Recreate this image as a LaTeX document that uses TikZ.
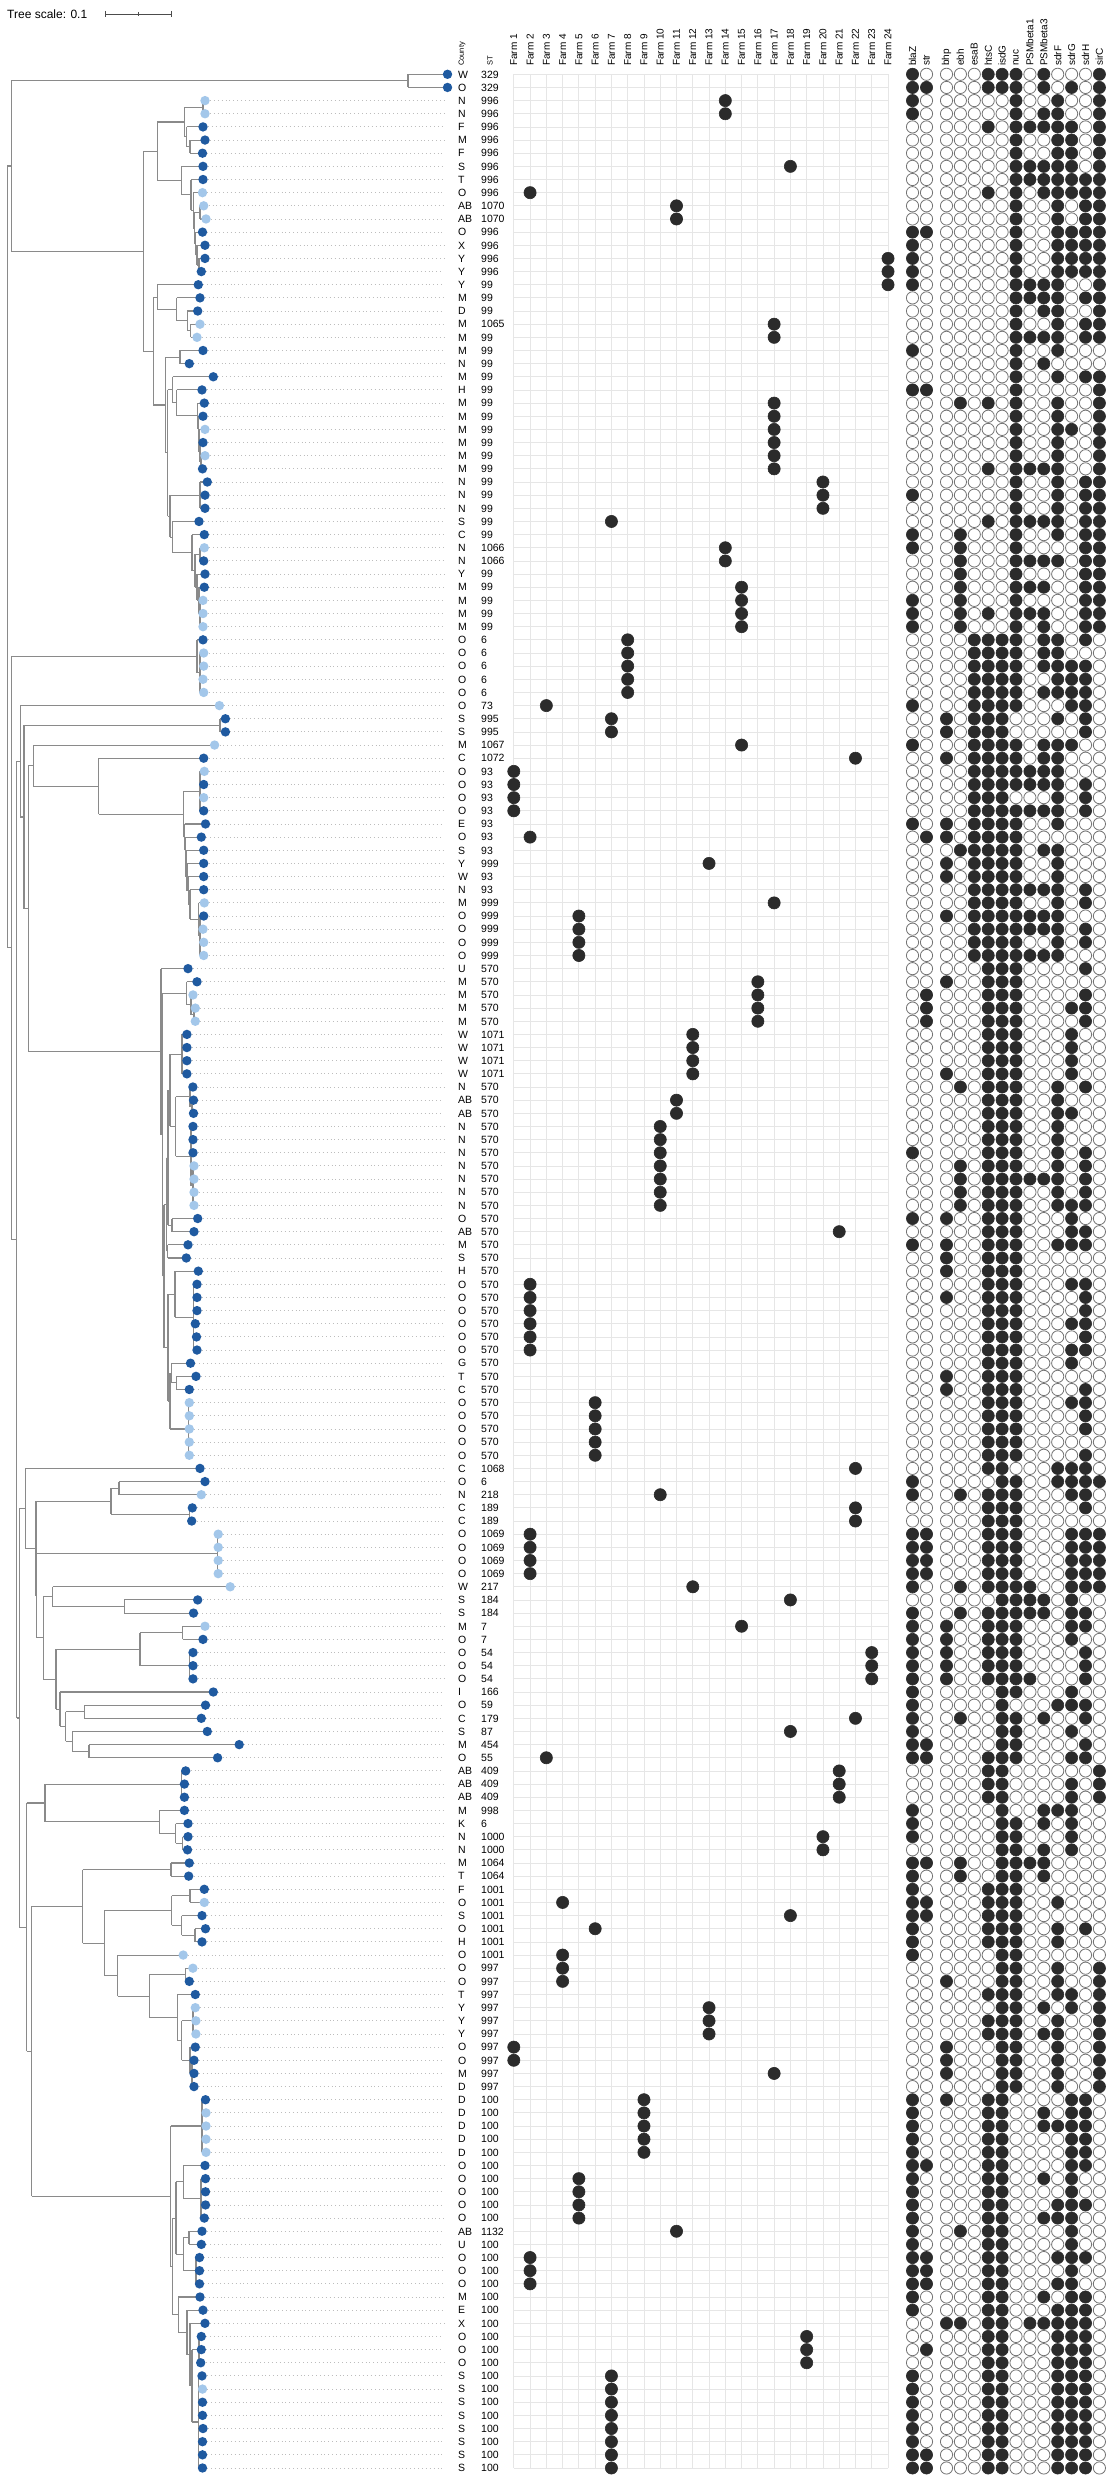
\documentclass[tikz,border=0pt]{standalone}
\usepackage{fontspec}
\setmainfont{Liberation Sans}
\usetikzlibrary{calc}
\definecolor{dk}{HTML}{1F5AA0}
\definecolor{lt}{HTML}{A3C7EA}
\definecolor{ink}{HTML}{2B2B2B}
\definecolor{gridc}{HTML}{E6E6E6}
\definecolor{treec}{HTML}{8A8A8A}
\definecolor{leadc}{HTML}{BDBDBD}
\newcount\gk
\def\gxpos#1{\ifcase#1\or912.5\or926.5\or946.5\or960.4\or974.3\or988.2\or1002.1\or1016\or1029.9\or1043.8\or1057.7\or1071.6\or1085.5\or1099.4\fi}
\newcommand\genes[2]{\global\gk=0 \gdef\onlist{}\gdef\offlist{}\def\gyy{#1}\expandafter\gparse#2\relax
  \ifx\onlist\empty\else\edef\tmpcmd{\noexpand\path[gonp] \onlist;}\tmpcmd\fi
  \ifx\offlist\empty\else\edef\tmpcmd{\noexpand\path[goffp] \offlist;}\tmpcmd\fi}
\def\gparse#1{\ifx\relax#1\else\global\advance\gk by 1 \edef\gxx{\gxpos{\the\gk}}%
  \ifnum#1=1 \xdef\onlist{\onlist (\gxx,\gyy) circle[radius=6.1]}\else\xdef\offlist{\offlist (\gxx,\gyy) circle[radius=6.1]}\fi
  \expandafter\gparse\fi}
\newcommand\trV[3]{\draw[tree] (#1,{ry(#2)}) -- (#1,{ry(#3)});}
\newcommand\trH[3]{\draw[tree] (#1,{ry(#3)}) -- (#2,{ry(#3)});}
% \ND{parent x}{x}{first child pos}{last child pos}
\newcommand\ND[4]{\trV{#2}{#3}{#4}\trH{#1}{#2}{(#3+#4)/2}}
% \TP{parent x}{row from}{row to}
\newcommand\TP[3]{\foreach \q in {#2,...,#3}{\expandafter\xdef\csname px\q\endcsname{#1}}}
\begin{document}
\begin{tikzpicture}[x=1pt,y=-1pt,
  declare function={ry(\r)=74.3+(\r-1)*13.152;},
  gonp/.style={draw=ink,fill=ink,line width=0.6pt},
  goffp/.style={draw=black!55,fill=white,line width=0.8pt},
  tipdot/.style={circle,minimum size=9.4pt,inner sep=0pt},
  tree/.style={draw=treec,line width=1.1pt},
  leader/.style={draw=leadc,line width=0.9pt,dash pattern=on 1pt off 2.9pt},
  gridl/.style={draw=gridc,line width=0.8pt},
  lab/.style={anchor=west,inner sep=0pt,text height=7.5pt,text depth=0pt,font=\fontsize{10.5}{12}\selectfont},
  hdr/.style={rotate=90,anchor=west,inner sep=0pt,font=\fontsize{10}{12}\selectfont},
  hdrs/.style={rotate=90,anchor=west,inner sep=0pt,font=\fontsize{7.5}{9}\selectfont}]
\useasboundingbox (0,0) rectangle (1109,2480);
\fill[white] (0,0) rectangle (1109,2480);
% tree scale
\node[anchor=west,inner sep=0pt,font=\fontsize{12}{14}\selectfont] (tscale) at (7,14) {Tree scale: 0.1};
\coordinate (sb1) at (105,14); \coordinate (sb2) at (171,14); \coordinate (sbm) at (138,14);
\draw[black!70,line width=0.8pt] (sb1) -- (sb2);
\draw[black!70,line width=0.8pt] ($(sb1)+(0,-3)$) -- ($(sb1)+(0,3)$);
\draw[black!70,line width=0.8pt] ($(sb2)+(0,-3)$) -- ($(sb2)+(0,3)$);
\draw[black!70,line width=0.8pt] ($(sbm)+(0,-2)$) -- ($(sbm)+(0,2)$);
% headers
\node[hdrs] (hcounty) at (462,66) {County};
\node[hdrs] (hst) at (490,66) {ST};
\foreach \k in {1,...,24} {\node[hdr] (hf\k) at ({513.8+(\k-1)*16.27},66) {Farm \k};}
\foreach \g [count=\k] in {blaZ,str,bhp,ebh,esaB,htsC,isdG,nuc,PSMbeta1,PSMbeta3,sdrF,sdrG,sdrH,sirC}
  {\edef\gxx{\gxpos{\k}}\node[hdr] (hg\k) at (\gxx,66) {\g};}
% grid
\foreach \k in {1,...,24} {\draw[gridl] ({513.8+(\k-1)*16.27},{ry(1)}) -- ({513.8+(\k-1)*16.27},{ry(183)});}
\foreach \r in {1,...,183} {\draw[gridl] (513.8,{ry(\r)}) -- (888,{ry(\r)});}
% ---------------- tree ----------------
\ND{11.3}{408}{1}{2} \TP{408}{1}{2}
\ND{184.3}{203}{3}{4} \TP{203}{3}{4}
\ND{186.7}{190}{6}{7} \TP{190}{6}{7}
\ND{184.3}{186.7}{5}{6.5} \TP{186.7}{5}{5}
\ND{157.3}{184.3}{3.5}{5.75}
\ND{194.5}{200}{11}{12} \TP{200}{11}{12}
\ND{197}{199}{15}{16} \TP{199}{15}{16}
\ND{195.5}{197}{14}{15.5} \TP{197}{14}{14}
\ND{194.5}{195.5}{13}{14.75} \TP{195.5}{13}{13}
\ND{193.3}{194.5}{11.5}{13.875}
\ND{191}{193.3}{10}{12.6875} \TP{193.3}{10}{10}
\ND{181.7}{191}{9}{11.34} \TP{191}{9}{9}
\ND{157.3}{181.7}{8}{10.17} \TP{181.7}{8}{8}
\ND{143.3}{157.3}{4.625}{9.085}
\ND{187.3}{190.7}{20}{21} \TP{190.7}{20}{21}
\ND{176.7}{187.3}{19}{20.5} \TP{187.3}{19}{19}
\ND{157.3}{176.7}{18}{19.75} \TP{176.7}{18}{18}
\ND{153.3}{157.3}{17}{18.875} \TP{157.3}{17}{17}
\ND{165.7}{180}{22}{23} \TP{180}{22}{23}
\ND{200}{201}{30}{31} \TP{201}{30}{31}
\ND{199}{200}{29}{30.5} \TP{200}{29}{29}
\ND{198.3}{199}{28}{29.75} \TP{199}{28}{28}
\ND{197.5}{198.3}{27}{28.875} \TP{198.3}{27}{27}
\ND{176.7}{197.5}{26}{27.94} \TP{197.5}{26}{26}
\ND{172.7}{176.7}{25}{26.97} \TP{176.7}{25}{25}
\ND{167.7}{172.7}{24}{25.98} \TP{172.7}{24}{24}
\ND{170}{200}{32}{34} \TP{200}{32}{34}
\ND{195}{200}{37}{38} \TP{200}{37}{38}
\ND{199}{200}{41}{43} \TP{200}{41}{43}
\ND{197}{199}{40}{42} \TP{199}{40}{40}
\ND{195}{197}{39}{41} \TP{197}{39}{39}
\ND{192}{195}{37.5}{40}
\ND{172.3}{192}{36}{38.75} \TP{192}{36}{36}
\ND{170}{172.3}{35}{37.375} \TP{172.3}{35}{35}
\ND{167.7}{170}{33}{36.19}
\ND{165.7}{167.7}{24.99}{34.59}
\ND{153.3}{165.7}{22.5}{29.79}
\ND{143.3}{153.3}{17.94}{26.15}
\ND{11.3}{143.3}{6.86}{22.04}
\ND{7.3}{11.3}{1.5}{14.45}
% ST6
\ND{197}{200}{45}{48} \TP{200}{45}{48}
\ND{11.3}{197}{44}{46.5} \TP{197}{44}{44}
% ST995
\ND{24}{220}{50}{51} \TP{220}{50}{51}
% ST93/999
\ND{183.7}{200}{54}{57} \TP{200}{54}{57}
\ND{198.5}{200}{65}{68} \TP{200}{65}{68}
\ND{190}{198.5}{64}{66.5} \TP{198.5}{64}{64}
\ND{188.3}{190}{63}{65.25} \TP{190}{63}{63}
\ND{187}{188.3}{62}{64.125} \TP{188.3}{62}{62}
\ND{186}{187}{61}{63.06} \TP{187}{61}{61}
\ND{185.3}{186}{60}{62.03} \TP{186}{60}{60}
\ND{184.7}{185.3}{59}{61.02} \TP{185.3}{59}{59}
\ND{183.7}{184.7}{58}{60.01} \TP{184.7}{58}{58}
\ND{98.7}{183.7}{55.5}{59.0}
\ND{33.3}{98.7}{53}{57.25} \TP{98.7}{53}{53}
\ND{28.3}{33.3}{52}{55.125} \TP{33.3}{52}{52}
% ST570
\ND{191}{194}{72}{73} \TP{194}{72}{73}
\ND{186.7}{191}{71}{72.5} \TP{191}{71}{71}
\ND{162.7}{186.7}{70}{71.75} \TP{186.7}{70}{70}
\ND{170}{182}{74}{77} \TP{182}{74}{77}
\ND{190}{192}{79}{80} \TP{192}{79}{80}
\ND{175.7}{190}{78}{79.5} \TP{190}{78}{78}
\ND{191}{193}{84}{87} \TP{193}{84}{87}
\ND{175.7}{191}{81}{85.5} \TP{191}{81}{83}
\ND{170}{175.7}{78.75}{83.25}
\ND{168}{170}{75.5}{81}
\ND{168}{172}{88}{89} \TP{172}{88}{89}
\ND{166.5}{168}{78.25}{88.5}
\ND{166.5}{167.5}{90}{91} \TP{167.5}{90}{91}
\ND{164}{166.5}{83.375}{90.5}
\ND{175}{193.3}{93}{98} \TP{193.3}{93}{98}
\ND{168}{175}{92}{95.5} \TP{175}{92}{92}
\ND{171.7}{176.7}{100}{101} \TP{176.7}{100}{101}
\ND{170}{171.7}{99}{100.5} \TP{171.7}{99}{99}
\ND{170}{188.3}{102}{106} \TP{188.3}{102}{106}
\ND{168}{170}{99.75}{104}
\ND{164}{168}{93.75}{101.875}
\ND{162.7}{164}{86.94}{97.81}
\ND{161}{162.7}{70.875}{92.375}
\ND{28.3}{161}{69}{81.625} \TP{161}{69}{69}
\ND{24}{28.3}{53.56}{75.31}
\ND{20.3}{24}{50.5}{64.44}
\ND{16.7}{20.3}{49}{57.47} \TP{20.3}{49}{49}
% lower part: rows 107-129
\ND{19.3}{25.3}{107}{113.1} \TP{25.3}{107}{107}
\ND{25.3}{36}{109.5}{116.7}
\ND{36}{111}{108.5}{110.5}
\ND{111}{119}{108}{109} \TP{119}{108}{109}
\ND{111}{189.3}{110}{111} \TP{189.3}{110}{111}
\ND{36}{36.7}{113.5}{119.9}
\ND{36.7}{217.3}{112}{115} \TP{217.3}{112}{115}
\ND{36.7}{43.3}{116.75}{123.0}
\ND{43.3}{52.7}{116}{117.5} \TP{52.7}{116}{116}
\ND{52.7}{124.3}{117}{118} \TP{124.3}{117}{118}
\ND{43.3}{56}{120.75}{125.3}
\ND{56}{140}{119.5}{122}
\ND{140}{182.7}{119}{120} \TP{182.7}{119}{120}
\ND{140}{189.3}{121}{123} \TP{189.3}{121}{123}
\ND{56}{60}{124}{126.6} \TP{60}{124}{124}
\ND{60}{65.7}{125.5}{127.75}
\ND{65.7}{84.3}{125}{126} \TP{84.3}{125}{126}
\ND{65.7}{72.3}{127}{128.5} \TP{72.3}{127}{127}
\ND{72.3}{89}{128}{129} \TP{89}{128}{129}
% rows 130-183
\ND{45}{181.7}{130}{132} \TP{181.7}{130}{132}
\ND{175.7}{182.7}{135}{136} \TP{182.7}{135}{136}
\ND{159.3}{175.7}{134}{135.5} \TP{175.7}{134}{134}
\ND{45}{159.3}{133}{134.75} \TP{159.3}{133}{133}
\ND{26.7}{45}{131}{133.875}
\ND{82.7}{171}{137}{138} \TP{171}{137}{138}
\ND{171.7}{190}{139}{140} \TP{190}{139}{140}
\ND{181.7}{195}{142}{143} \TP{195}{142}{143}
\ND{171.7}{181.7}{141}{142.5} \TP{181.7}{141}{141}
\ND{104.3}{171.7}{139.5}{141.75}
\ND{149.3}{185.7}{145}{146} \TP{185.7}{145}{146}
\ND{181.7}{193}{148}{150} \TP{193}{148}{150}
\ND{190}{192}{152}{154} \TP{192}{152}{154}
\ND{181.7}{190}{151}{153} \TP{190}{151}{151}
\ND{177.3}{181.7}{149}{152}
\ND{149.3}{177.3}{147}{150.5} \TP{177.3}{147}{147}
\ND{117.7}{149.3}{145.5}{148.75}
\ND{104.3}{117.7}{144}{147.125} \TP{117.7}{144}{144}
\ND{82.7}{104.3}{140.625}{145.56}
\ND{31.7}{82.7}{137.5}{143.1}
\ND{170.7}{202}{155}{159} \TP{202}{155}{159}
\ND{183.3}{201}{161}{164} \TP{201}{161}{164}
\ND{176}{183.3}{160}{162.5} \TP{183.3}{160}{160}
\ND{183.3}{189}{165}{166} \TP{189}{165}{166}
\ND{183.3}{196}{167}{169} \TP{196}{167}{169}
\ND{176}{183.3}{165.5}{168}
\ND{172.3}{176}{161.25}{166.75}
\ND{192}{199}{173}{175} \TP{199}{173}{175}
\ND{192}{198.7}{176}{183} \TP{198.7}{176}{183}
\ND{190}{192}{174}{179.5}
\ND{187}{190}{172}{176.75} \TP{190}{172}{172}
\ND{178.3}{187}{171}{174.375} \TP{187}{171}{171}
\ND{172.3}{178.3}{170}{172.69} \TP{178.3}{170}{170}
\ND{170.7}{172.3}{164}{171.35}
\ND{31.7}{170.7}{157}{167.68}
\ND{26.7}{31.7}{140.3}{162.3}
\ND{19.3}{26.7}{132.45}{151.3}
\ND{16.7}{19.3}{110.05}{141.9}
\ND{11.3}{16.7}{53.24}{126.0}
\ND{7.3}{11.3}{45.25}{89.6}
\trV{7.3}{7.975}{67.4}
% ---------------- rows ----------------
\foreach \r/\cc/\st/\fm/\gs/\tx/\tc in {
1/W/329/0/10000111010001/447.5/dk,
2/O/329/0/11000111010101/447.5/dk,
3/N/996/14/10000001001001/205/lt,
4/N/996/14/10000001011001/205/lt,
5/F/996/0/00000101111101/203/dk,
6/M/996/0/00000001001101/205/dk,
7/F/996/0/00000001001101/202.5/dk,
8/S/996/18/00000001111101/203/dk,
9/T/996/0/00000001111111/203/dk,
10/O/996/2/00000101011111/202.5/lt,
11/AB/1070/11/00000001001011/203.7/lt,
12/AB/1070/11/00000001001011/206/lt,
13/O/996/0/11000001001111/202.5/dk,
14/X/996/0/10000001001111/205/dk,
15/Y/996/24/10000001001111/205/dk,
16/Y/996/24/10000001001111/201.3/dk,
17/Y/99/24/10000001111001/198.3/dk,
18/M/99/0/00000001111011/200/dk,
19/D/99/0/00000001011001/197.7/dk,
20/M/1065/17/00000001001011/200/lt,
21/M/99/17/00000001111011/197/lt,
22/M/99/0/10000001001000/203/dk,
23/N/99/0/00000001010000/189.3/dk,
24/M/99/0/00000001001011/213.3/dk,
25/H/99/0/11000001000001/202/dk,
26/M/99/17/00010101001001/204.3/dk,
27/M/99/17/00000001001001/203/dk,
28/M/99/17/00000001001101/205/lt,
29/M/99/17/00000001001001/203/dk,
30/M/99/17/00000001001001/205/lt,
31/M/99/17/00000101111001/202.5/dk,
32/N/99/20/00000001001011/207.3/dk,
33/N/99/20/10000001001011/205/dk,
34/N/99/20/00000001001011/205/dk,
35/S/99/7/00000101111011/199/dk,
36/C/99/0/10010001001011/204.3/dk,
37/N/1066/14/10010001000011/204.3/lt,
38/N/1066/14/00010001111011/203.7/dk,
39/Y/99/0/00010001000011/205/dk,
40/M/99/15/00010001110011/204.3/dk,
41/M/99/15/10010001000011/203/lt,
42/M/99/15/10010101110011/203/lt,
43/M/99/15/10010001010011/203/lt,
44/O/6/8/00001111011010/203/dk,
45/O/6/8/00001111011000/203.7/lt,
46/O/6/8/00001111011110/203.7/lt,
47/O/6/8/00001111001110/203/lt,
48/O/6/8/00001111011110/203.7/lt,
49/O/73/3/10001111000110/219.4/lt,
50/S/995/7/00101110001010/225.4/dk,
51/S/995/7/00101110000010/225.4/dk,
52/M/1067/15/10001111011100/214.6/lt,
53/C/1072/22/00101111011000/203.7/dk,
54/O/93/1/00001111111000/204.3/lt,
55/O/93/1/00001111111010/203.7/dk,
56/O/93/1/00001110001010/203.7/lt,
57/O/93/1/00001111111010/203.7/dk,
58/E/93/0/10101111001000/205.5/dk,
59/O/93/2/01101111000000/201.3/dk,
60/S/93/0/00011111011000/203.7/dk,
61/Y/999/13/00101111001000/203.7/dk,
62/W/93/0/00101111001000/203.7/dk,
63/N/93/0/00001111111010/203.7/dk,
64/M/999/17/00001111001010/204.3/lt,
65/O/999/5/00101111111000/203.7/dk,
66/O/999/5/00001111111010/203/lt,
67/O/999/5/00001111001010/203.7/lt,
68/O/999/5/00001111111000/203.7/lt,
69/U/570/0/00000111000010/188/dk,
70/M/570/16/00100111000000/197/dk,
71/M/570/16/01000111000010/193/lt,
72/M/570/16/01000111000110/195.3/lt,
73/M/570/16/01000111000010/195.3/lt,
74/W/1071/12/00000111000100/186.9/dk,
75/W/1071/12/00000111000100/186.9/dk,
76/W/1071/12/00000111000100/186.9/dk,
77/W/1071/12/00100111000100/186.9/dk,
78/N/570/0/00010111001010/192.9/dk,
79/AB/570/11/00000111001000/193.5/dk,
80/AB/570/11/00000111001100/193.5/dk,
81/N/570/10/00000111001000/193/dk,
82/N/570/10/00000111001000/193/dk,
83/N/570/10/10000111001010/193/dk,
84/N/570/10/00010111001010/194/lt,
85/N/570/10/00010111111010/194/lt,
86/N/570/10/00010111001010/194/lt,
87/N/570/10/00010111001110/194/lt,
88/O/570/0/10100111000100/197.7/dk,
89/AB/570/21/00000111000110/194/dk,
90/M/570/0/10100111001110/188/dk,
91/S/570/0/00100111000000/186.3/dk,
92/H/570/0/00100111000000/198.3/dk,
93/O/570/2/00000111000110/197/dk,
94/O/570/2/00100111000010/197/dk,
95/O/570/2/00000111000010/197/dk,
96/O/570/2/00000111000110/195.3/dk,
97/O/570/2/00000111000010/196.5/dk,
98/O/570/2/00000111000110/197/dk,
99/G/570/0/00000111000100/190.5/dk,
100/T/570/0/00100111000000/196/dk,
101/C/570/0/00100111000010/189.3/dk,
102/O/570/6/00000111000110/189.3/lt,
103/O/570/6/00000111000010/189.3/lt,
104/O/570/6/00000111000010/189.3/lt,
105/O/570/6/00000111000000/189.3/lt,
106/O/570/6/00000111000010/189.3/lt,
107/C/1068/22/00000110001110/200/dk,
108/O/6/0/10000011001111/205/dk,
109/N/218/10/10010111000110/201.3/lt,
110/C/189/22/00000111000010/192.3/dk,
111/C/189/22/00000111000000/191.7/dk,
112/O/1069/2/11000111000111/218.2/lt,
113/O/1069/2/11000111000111/218.2/lt,
114/O/1069/2/11000111000111/218.2/lt,
115/O/1069/2/11000111000111/218.2/lt,
116/W/217/12/10010111100111/230.2/lt,
117/S/184/18/00000011110100/197.7/dk,
118/S/184/0/10010111110110/193.5/dk,
119/M/7/15/10100111000110/205/lt,
120/O/7/0/10100111000100/203/dk,
121/O/54/23/10100111000010/193/dk,
122/O/54/23/10100111000010/193/dk,
123/O/54/23/10100111100010/193/dk,
124/I/166/0/10000011000100/213.3/dk,
125/O/59/0/10000010001110/205.5/dk,
126/C/179/22/10010011010010/201.3/dk,
127/S/87/18/10000011000100/207.3/dk,
128/M/454/0/11000011000010/239.2/dk,
129/O/55/3/11000111000110/217.6/dk,
130/AB/409/21/00000110000001/185.7/dk,
131/AB/409/21/00000110000101/184.4/dk,
132/AB/409/21/00000110000101/184.4/dk,
133/M/998/0/10000010011100/184.4/dk,
134/K/6/0/10000011010100/188/dk,
135/N/1000/20/10000011000100/188/dk,
136/N/1000/20/00000011010100/187.5/dk,
137/M/1064/0/11010011110000/189.3/dk,
138/T/1064/0/10010011010000/188.7/dk,
139/F/1001/0/10000111000000/204.3/dk,
140/O/1001/4/11000111001000/204.3/lt,
141/S/1001/18/11000111000000/202/dk,
142/O/1001/6/10000111001010/205.5/dk,
143/H/1001/0/10000111001000/202/dk,
144/O/1001/4/10000011000000/183.2/lt,
145/O/997/4/00000011001001/192.9/lt,
146/O/997/4/00100011001001/189.3/dk,
147/T/997/0/00000111001101/195.3/dk,
148/Y/997/13/00000011010101/195.3/lt,
149/Y/997/13/00000111001001/195.9/lt,
150/Y/997/13/00000111011001/195.9/lt,
151/O/997/1/00100011001001/195.3/dk,
152/O/997/1/00100011001001/194/dk,
153/M/997/17/00100011001001/194/dk,
154/D/997/0/00000011001001/194/dk,
155/D/100/9/10100110000110/205.5/dk,
156/D/100/9/10000110010110/206/lt,
157/D/100/9/10000110011110/206/lt,
158/D/100/9/10000110000110/206/lt,
159/D/100/9/10000110000110/206/lt,
160/O/100/0/11000110000110/205/dk,
161/O/100/5/10000110010100/205.5/dk,
162/O/100/5/10000110000100/205.5/dk,
163/O/100/5/10000110001110/205.5/dk,
164/O/100/5/10000110011100/204.3/dk,
165/AB/1132/11/10010110000100/202/dk,
166/U/100/0/10000110000100/201.3/dk,
167/O/100/2/11000110001110/199.5/dk,
168/O/100/2/11000110000100/199.5/dk,
169/O/100/2/11000110001100/199.5/dk,
170/M/100/0/10000110010110/200/dk,
171/E/100/0/10000110001110/203/dk,
172/X/100/0/00110110111110/205/dk,
173/O/100/19/00000110001110/201.3/dk,
174/O/100/19/01000110001110/201.3/dk,
175/O/100/19/00000110001110/200.7/dk,
176/S/100/7/10000110001110/202/dk,
177/S/100/7/10000110001110/202.5/lt,
178/S/100/7/10000110001110/202.5/dk,
179/S/100/7/10000110001110/202.5/dk,
180/S/100/7/10000110001110/203/dk,
181/S/100/7/10000110001110/202.5/dk,
182/S/100/7/11000110001110/202.5/dk,
183/S/100/7/11000110001110/202.5/dk}{
  \pgfmathsetmacro\yy{ry(\r)}
  \edef\px{\csname px\r\endcsname}
  \draw[tree] (\px,\yy) -- (\tx,\yy);
  \node[tipdot,fill=\tc] (t\r) at (\tx,\yy) {};
  \ifdim\tx pt<430pt
    \coordinate (e\r) at (444,\yy);
    \draw[leader] (t\r.east) -- (e\r);
  \fi
  \node[lab] (c\r) at (458,\yy) {\cc};
  \node[lab] (s\r) at (481,\yy) {\st};
  \ifnum\fm>0 \path[gonp] ({513.8+(\fm-1)*16.27},\yy) circle[radius=6.1];\fi
  \genes{\yy}{\gs}
}
\end{tikzpicture}
\end{document}
